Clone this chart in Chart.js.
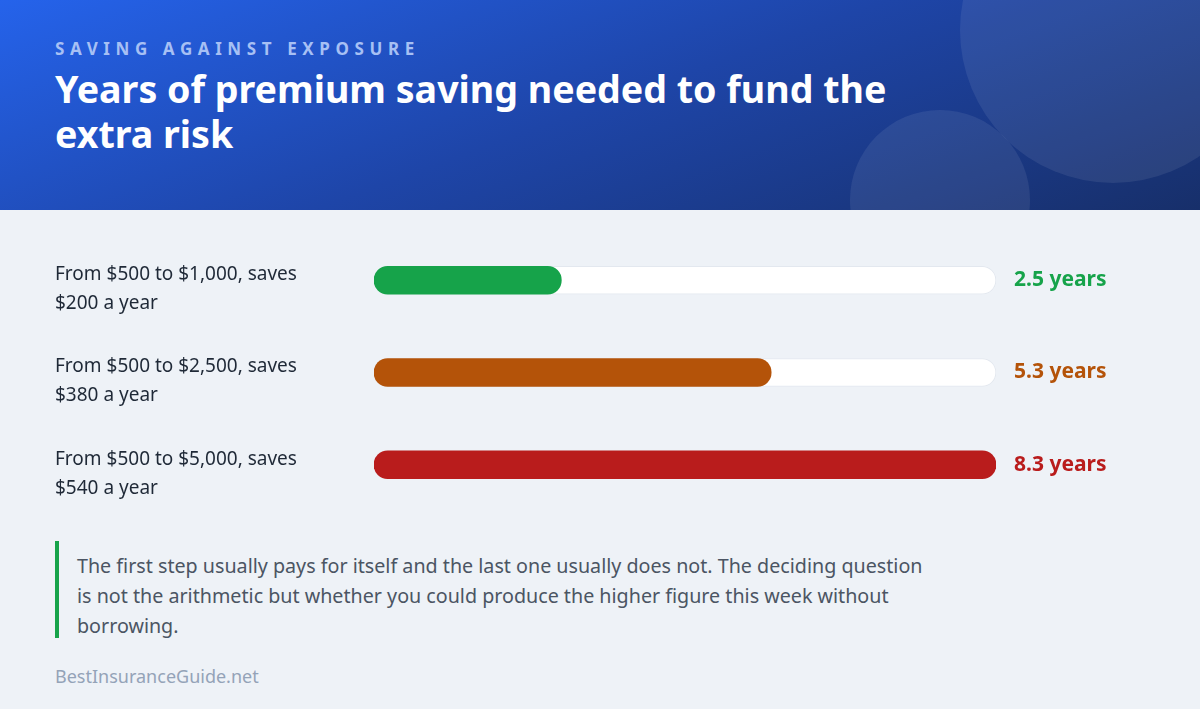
<!DOCTYPE html>
<html>
<head>
<meta charset="utf-8">
<script src="https://cdn.jsdelivr.net/npm/chart.js@4.4.1/dist/chart.umd.min.js"></script>
<style>
  html, body { margin: 0; padding: 0; }
  body { width: 1200px; height: 709px; background: #eef2f7; font-family: "Noto Sans", "Open Sans", sans-serif; position: relative; overflow: hidden; }
  .head { position: absolute; left: 0; top: 0; width: 1200px; height: 210px; overflow: hidden;
    background: linear-gradient(160deg, #2563eb 0%, #1e45a8 50%, #172f6a 100%); }
  .circle { position: absolute; border-radius: 50%; background: rgba(255,255,255,0.08); }
  .c1 { left: 960px; top: -123px; width: 306px; height: 306px; }
  .c2 { left: 850px; top: 110px; width: 180px; height: 180px; }
  .kicker { position: absolute; left: 55px; top: 37px; font-size: 17px; font-weight: 700; letter-spacing: 5.6px; color: #a7c0f4; }
  .title { position: absolute; left: 55px; top: 66px; font-size: 37.6px; font-weight: 700; line-height: 45px; color: #fff; white-space: nowrap; }
  #wrap { position: absolute; left: 55px; top: 205px; width: 1145px; height: 335px; }
  .note { position: absolute; left: 55px; top: 541px; height: 87px; border-left: 4px solid #16a34a; padding-left: 18px; padding-top: 10px;
    font-size: 19.7px; line-height: 30px; color: #4b5563; white-space: nowrap; }
  .foot { position: absolute; left: 55px; top: 664px; font-size: 18px; color: #94a3b8; }
</style>
</head>
<body>
<div class="head">
  <div class="circle c1"></div>
  <div class="circle c2"></div>
  <div class="kicker">SAVING AGAINST EXPOSURE</div>
  <div class="title">Years of premium saving needed to fund the<br>extra risk</div>
</div>
<div id="wrap"><canvas id="chart"></canvas></div>
<div class="note">The first step usually pays for itself and the last one usually does not. The deciding question<br>is not the arithmetic but whether you could produce the higher figure this week without<br>borrowing.</div>
<div class="foot">BestInsuranceGuide.net</div>
<script>
// rows of the chart
const categories = [
  ['From $500 to $1,000, saves', '$200 a year'],
  ['From $500 to $2,500, saves', '$380 a year'],
  ['From $500 to $5,000, saves', '$540 a year']
];
const years = [2.5, 5.3, 8.3];
const valueLabels = ['2.5 years', '5.3 years', '8.3 years'];
const barColors = ['#16a34a', '#b45309', '#b91c1c'];

const maxYears = Math.max(...years);
const track = categories.map(() => maxYears);

// value text to the right of each track
const valueText = {
  id: 'valueText',
  afterDatasetsDraw(chart) {
    const ctx = chart.ctx;
    const meta = chart.getDatasetMeta(1);
    ctx.save();
    ctx.font = '700 21px "Noto Sans", "Open Sans", sans-serif';
    ctx.textBaseline = 'middle';
    ctx.textAlign = 'left';
    meta.data.forEach((bar, i) => {
      ctx.fillStyle = barColors[i];
      ctx.fillText(valueLabels[i], chart.chartArea.right + 18, bar.y);
    });
    ctx.restore();
  }
};

new Chart(document.getElementById('chart'), {
  type: 'bar',
  data: {
    labels: categories,
    datasets: [
      {
        data: years,
        backgroundColor: barColors,
        borderRadius: 14,
        borderSkipped: false,
        barThickness: 28,
        grouped: false,
        order: 1
      },
      {
        data: track,
        backgroundColor: '#ffffff',
        borderColor: '#e3e8ef',
        borderWidth: 1,
        borderRadius: 14,
        borderSkipped: false,
        barThickness: 28,
        grouped: false,
        order: 2
      }
    ]
  },
  options: {
    indexAxis: 'y',
    responsive: true,
    maintainAspectRatio: false,
    animation: false,
    layout: { padding: { right: 204, left: 0, top: 0, bottom: 0 } },
    plugins: { legend: { display: false }, tooltip: { enabled: false } },
    scales: {
      x: { display: false, min: 0, max: maxYears },
      y: {
        grid: { display: false },
        border: { display: false },
        ticks: {
          crossAlign: 'far',
          padding: 0,
          labelOffset: 9,
          color: '#1f2937',
          font: { family: '"Noto Sans", "Open Sans", sans-serif', size: 19, lineHeight: 1.53 }
        },
        afterFit(scale) { scale.width = 319; }
      }
    }
  },
  plugins: [valueText]
});
</script>
</body>
</html>
